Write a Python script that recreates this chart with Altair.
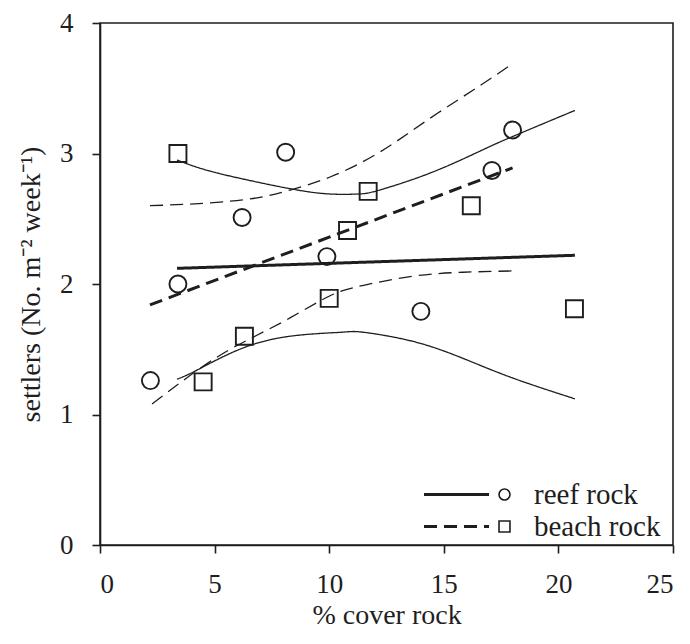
import altair as alt
import pandas as pd

# ---- data ----
series_names = ["reef rock", "beach rock"]

reef_x = [2.2, 3.4, 6.2, 8.1, 9.9, 14.0, 17.1, 18.0]
reef_y = [1.26, 2.00, 2.51, 3.01, 2.21, 1.79, 2.87, 3.18]

beach_x = [3.4, 4.5, 6.3, 10.0, 10.8, 11.7, 16.2, 20.7]
beach_y = [3.00, 1.25, 1.60, 1.89, 2.41, 2.71, 2.60, 1.81]

# regression lines
reef_fit_x = [3.36, 20.72]
reef_fit_y = [2.12, 2.22]
beach_fit_x = [2.18, 18.0]
beach_fit_y = [1.84, 2.89]

# confidence bands
reef_up_x = [3.36, 4.5, 6.1, 8.3, 10.0, 11.3, 12.2, 14.4, 16.6, 18.0, 20.72]
reef_up_y = [2.95, 2.88, 2.81, 2.73, 2.69, 2.69, 2.72, 2.85, 3.02, 3.13, 3.33]
reef_lo_x = [3.36, 4.23, 6.1, 8.3, 10.5, 11.5, 13.66, 15.84, 18.0, 20.72]
reef_lo_y = [1.27, 1.34, 1.50, 1.60, 1.63, 1.63, 1.56, 1.43, 1.28, 1.12]

beach_up_x = [2.18, 4.67, 6.85, 8.29, 10.04, 12.2, 14.4, 16.58, 18.0]
beach_up_y = [2.60, 2.62, 2.66, 2.72, 2.82, 3.01, 3.27, 3.52, 3.69]
beach_lo_x = [2.27, 4.67, 6.54, 8.29, 10.04, 11.5, 13.66, 15.84, 18.0]
beach_lo_y = [1.08, 1.39, 1.58, 1.74, 1.91, 1.99, 2.06, 2.09, 2.10]

x_ticks = [0, 5, 10, 15, 20, 25]
y_ticks = [0, 1, 2, 3, 4]

# ---- tables ----
pts = pd.DataFrame(
    [{"series": "reef rock", "x": a, "y": b} for a, b in zip(reef_x, reef_y)]
    + [{"series": "beach rock", "x": a, "y": b} for a, b in zip(beach_x, beach_y)]
)
fit = pd.DataFrame(
    [{"kind": "reef rock", "x": a, "y": b} for a, b in zip(reef_fit_x, reef_fit_y)]
    + [{"kind": "beach rock", "x": a, "y": b} for a, b in zip(beach_fit_x, beach_fit_y)]
)
ci_rows = []
for name, band, xs_, ys_ in [
    ("reef rock", "upper", reef_up_x, reef_up_y),
    ("reef rock", "lower", reef_lo_x, reef_lo_y),
    ("beach rock", "upper", beach_up_x, beach_up_y),
    ("beach rock", "lower", beach_lo_x, beach_lo_y),
]:
    for a, b in zip(xs_, ys_):
        ci_rows.append({"kind": name, "band": name + band, "x": a, "y": b})
ci = pd.DataFrame(ci_rows)

INK = "#1e1e1e"
FONT = "Liberation Serif"

xs = alt.Scale(domain=[0, 25], nice=False)
ys = alt.Scale(domain=[0, 4], nice=False)
x_axis = alt.Axis(values=x_ticks, format="d", title="% cover rock",
                  labelPadding=18, titlePadding=4)
y_axis = alt.Axis(values=y_ticks, format="d",
                  title="settlers (No. m\u207b\u00b2 week\u207b\u00b9)",
                  labelPadding=19, titlePadding=14)

dash_scale = alt.Scale(domain=series_names, range=[[1, 0], [13, 7]])
shape_scale = alt.Scale(domain=series_names, range=["circle", "square"])

dash_legend = alt.Legend(
    title=None, orient="none", legendX=342, legendY=457, padding=0,
    symbolType="M-5,0H5", symbolSize=169, symbolStrokeWidth=3,
    symbolStrokeColor=INK, labelExpr="''", labelFontSize=29, rowPadding=2,
)

fit_layer = alt.Chart(fit).mark_line(strokeWidth=3, color=INK).encode(
    x=alt.X("x:Q", scale=xs, axis=x_axis),
    y=alt.Y("y:Q", scale=ys, axis=y_axis),
    strokeDash=alt.StrokeDash("kind:N", scale=dash_scale, legend=dash_legend),
    detail="kind:N",
)
ci_layer = alt.Chart(ci).mark_line(strokeWidth=1.3, color=INK, interpolate="natural").encode(
    x="x:Q",
    y="y:Q",
    strokeDash=alt.StrokeDash("kind:N", scale=dash_scale, legend=dash_legend),
    detail="band:N",
)
pt_layer = alt.Chart(pts).mark_point(
    filled=False, size=290, strokeWidth=1.9, color=INK, opacity=1
).encode(
    x="x:Q",
    y="y:Q",
    shape=alt.Shape(
        "series:N", scale=shape_scale,
        legend=alt.Legend(
            title=None, orient="none", legendX=390, legendY=457, padding=0,
            symbolSize=120, symbolStrokeWidth=1.6, symbolStrokeColor=INK,
            symbolFillColor="transparent",
            labelFontSize=29, labelFont=FONT, labelColor=INK, labelOffset=15,
            rowPadding=2,
        ),
    ),
)

chart = (
    alt.layer(ci_layer, fit_layer, pt_layer)
    .resolve_legend(strokeDash="independent", shape="independent")
    .properties(
        width=573, height=522,
        autosize=alt.AutoSizeParams(type="none"),
        padding={"left": 92, "top": 15, "right": 5, "bottom": 86},
        background="white",
    )
    .configure_view(stroke=INK, strokeWidth=1.6)
    .configure_axis(
        grid=False, domainColor=INK, domainWidth=1.6, tickColor=INK, tickWidth=1.6,
        tickSize=8, labelFont=FONT, labelFontSize=27, labelColor=INK,
        titleFont=FONT, titleFontSize=28, titleFontWeight="normal", titleColor=INK,
    )
)

chart.save("out.html", embed_options={"renderer": "svg", "actions": False})
